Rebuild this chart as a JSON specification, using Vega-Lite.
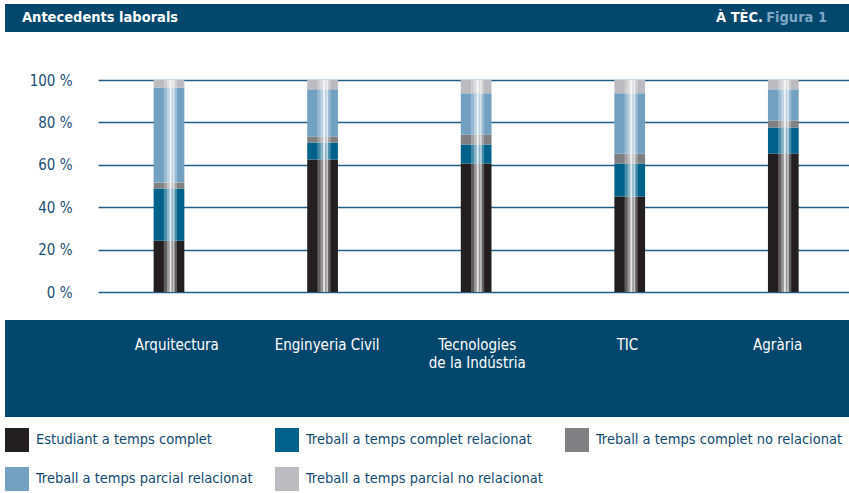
{
  "$schema": "https://vega.github.io/schema/vega-lite/v6.json",
  "background": "white",
  "padding": {"left": 5, "top": 4, "right": 0, "bottom": 0},
  "config": {
    "view": {"stroke": null},
    "font": "DejaVu Sans Condensed, Liberation Sans, sans-serif"
  },
  "datasets": {
    "rows": [
      {"cat": "Arquitectura", "serie": "Estudiant a temps complet", "order": 1, "value": 24.2},
      {"cat": "Arquitectura", "serie": "Treball a temps complet relacionat", "order": 2, "value": 24.6},
      {"cat": "Arquitectura", "serie": "Treball a temps complet no relacionat", "order": 3, "value": 2.8},
      {"cat": "Arquitectura", "serie": "Treball a temps parcial relacionat", "order": 4, "value": 44.9},
      {"cat": "Arquitectura", "serie": "Treball a temps parcial no relacionat", "order": 5, "value": 3.5},
      {"cat": "Enginyeria Civil", "serie": "Estudiant a temps complet", "order": 1, "value": 62.5},
      {"cat": "Enginyeria Civil", "serie": "Treball a temps complet relacionat", "order": 2, "value": 8.0},
      {"cat": "Enginyeria Civil", "serie": "Treball a temps complet no relacionat", "order": 3, "value": 2.9},
      {"cat": "Enginyeria Civil", "serie": "Treball a temps parcial relacionat", "order": 4, "value": 22.2},
      {"cat": "Enginyeria Civil", "serie": "Treball a temps parcial no relacionat", "order": 5, "value": 4.4},
      {"cat": "Tecnologies de la Indústria", "serie": "Estudiant a temps complet", "order": 1, "value": 60.6},
      {"cat": "Tecnologies de la Indústria", "serie": "Treball a temps complet relacionat", "order": 2, "value": 9.0},
      {"cat": "Tecnologies de la Indústria", "serie": "Treball a temps complet no relacionat", "order": 3, "value": 4.6},
      {"cat": "Tecnologies de la Indústria", "serie": "Treball a temps parcial relacionat", "order": 4, "value": 19.5},
      {"cat": "Tecnologies de la Indústria", "serie": "Treball a temps parcial no relacionat", "order": 5, "value": 6.3},
      {"cat": "TIC", "serie": "Estudiant a temps complet", "order": 1, "value": 45.0},
      {"cat": "TIC", "serie": "Treball a temps complet relacionat", "order": 2, "value": 15.6},
      {"cat": "TIC", "serie": "Treball a temps complet no relacionat", "order": 3, "value": 4.6},
      {"cat": "TIC", "serie": "Treball a temps parcial relacionat", "order": 4, "value": 28.5},
      {"cat": "TIC", "serie": "Treball a temps parcial no relacionat", "order": 5, "value": 6.3},
      {"cat": "Agrària", "serie": "Estudiant a temps complet", "order": 1, "value": 65.3},
      {"cat": "Agrària", "serie": "Treball a temps complet relacionat", "order": 2, "value": 12.3},
      {"cat": "Agrària", "serie": "Treball a temps complet no relacionat", "order": 3, "value": 3.3},
      {"cat": "Agrària", "serie": "Treball a temps parcial relacionat", "order": 4, "value": 14.7},
      {"cat": "Agrària", "serie": "Treball a temps parcial no relacionat", "order": 5, "value": 4.4}
    ],
    "cats": [
      {"cat": "Arquitectura", "label": "Arquitectura"},
      {"cat": "Enginyeria Civil", "label": "Enginyeria Civil"},
      {"cat": "Tecnologies de la Indústria", "label": "Tecnologies\nde la Indústria"},
      {"cat": "TIC", "label": "TIC"},
      {"cat": "Agrària", "label": "Agrària"}
    ]
  },
  "spacing": 41,
  "vconcat": [
    {
      "width": 844,
      "height": 28,
      "view": {"fill": "#03476c", "stroke": null},
      "data": {"values": [{}]},
      "layer": [
        {
          "mark": {"type": "text", "align": "left", "baseline": "middle", "dx": 17, "fontSize": 14.5, "fontWeight": "bold", "color": "white"},
          "encoding": {
            "x": {"datum": 0, "type": "quantitative", "scale": {"domain": [0, 1]}, "axis": null},
            "text": {"value": "Antecedents laborals"}
          }
        },
        {
          "mark": {"type": "text", "align": "right", "baseline": "middle", "dx": -86, "fontSize": 14.5, "fontWeight": "bold", "color": "white"},
          "encoding": {
            "x": {"datum": 1, "type": "quantitative", "scale": {"domain": [0, 1]}, "axis": null},
            "text": {"value": "À TÈC."}
          }
        },
        {
          "mark": {"type": "text", "align": "right", "baseline": "middle", "dx": -22, "fontSize": 14.5, "fontWeight": "bold", "color": "#7ea8c8"},
          "encoding": {
            "x": {"datum": 1, "type": "quantitative", "scale": {"domain": [0, 1]}, "axis": null},
            "text": {"value": "Figura 1"}
          }
        }
      ]
    },
    {
      "spacing": 20,
      "vconcat": [
        {
          "width": 844,
          "height": 212,
          "data": {"name": "rows"},
          "encoding": {
            "x": {
              "field": "cat", "type": "nominal",
              "sort": ["Arquitectura", "Enginyeria Civil", "Tecnologies de la Indústria", "TIC", "Agrària"],
              "scale": {"range": [93, 844], "paddingInner": 0.8, "paddingOuter": 0.345, "align": 0.525},
              "axis": null
            },
            "y": {
              "field": "value", "type": "quantitative", "stack": "zero",
              "scale": {"domain": [0, 100], "nice": false},
              "axis": {
                "values": [0, 20, 40, 60, 80, 100],
                "labelExpr": "datum.value + ' %'",
                "ticks": false, "domain": false,
                "grid": true, "gridColor": "#225f87", "gridWidth": 1.4,
                "labelPadding": -67, "labelFontSize": 15, "labelColor": "#1b4f75",
                "title": null
              }
            },
            "order": {"field": "order", "type": "quantitative"}
          },
          "layer": [
            {
              "mark": {"type": "bar"},
              "encoding": {
                "color": {
                  "field": "serie", "type": "nominal",
                  "scale": {
                    "domain": ["Estudiant a temps complet", "Treball a temps complet relacionat", "Treball a temps complet no relacionat", "Treball a temps parcial relacionat", "Treball a temps parcial no relacionat"],
                    "range": ["#231f20", "#00618a", "#808083", "#72a0c1", "#bcbcc0"]
                  },
                  "legend": {
                    "orient": "bottom", "direction": "horizontal", "columns": 3,
                    "columnPadding": 22, "rowPadding": 15, "symbolType": "square", "symbolSize": 576,
                    "symbolStrokeWidth": 0, "labelFontSize": 14.5, "labelColor": "#0f4a70",
                    "labelOffset": 7, "labelLimit": 400, "title": null, "offset": 11, "padding": 0
                  }
                }
              }
            },
            {
              "mark": {"type": "bar", "color": "white", "opacity": 0.28, "size": 13.2, "xOffset": 1.4},
              "encoding": {"detail": {"field": "serie"}}
            },
            {
              "mark": {"type": "bar", "color": "white", "opacity": 0.35, "size": 7.6, "xOffset": 1.7},
              "encoding": {"detail": {"field": "serie"}}
            },
            {
              "mark": {"type": "bar", "color": "white", "opacity": 0.75, "size": 1.9, "xOffset": 1.55},
              "encoding": {"detail": {"field": "serie"}}
            },
            {
              "mark": {"type": "bar", "color": "white", "opacity": 0.45, "size": 1.5, "xOffset": 4.75},
              "encoding": {"detail": {"field": "serie"}}
            }
          ]
        },
        {
          "width": 844,
          "height": 97,
          "view": {"fill": "#03476c", "stroke": null},
          "data": {"name": "cats"},
          "mark": {"type": "text", "align": "center", "baseline": "top", "dy": -31, "lineBreak": "\n", "lineHeight": 18, "fontSize": 15, "color": "white"},
          "encoding": {
            "x": {
              "field": "cat", "type": "nominal",
              "sort": ["Arquitectura", "Enginyeria Civil", "Tecnologies de la Indústria", "TIC", "Agrària"],
              "scale": {"range": [93, 844], "paddingInner": 0.8, "paddingOuter": 0.345, "align": 0.525},
              "axis": null
            },
            "text": {"field": "label"}
          }
        }
      ]
    }
  ]
}
